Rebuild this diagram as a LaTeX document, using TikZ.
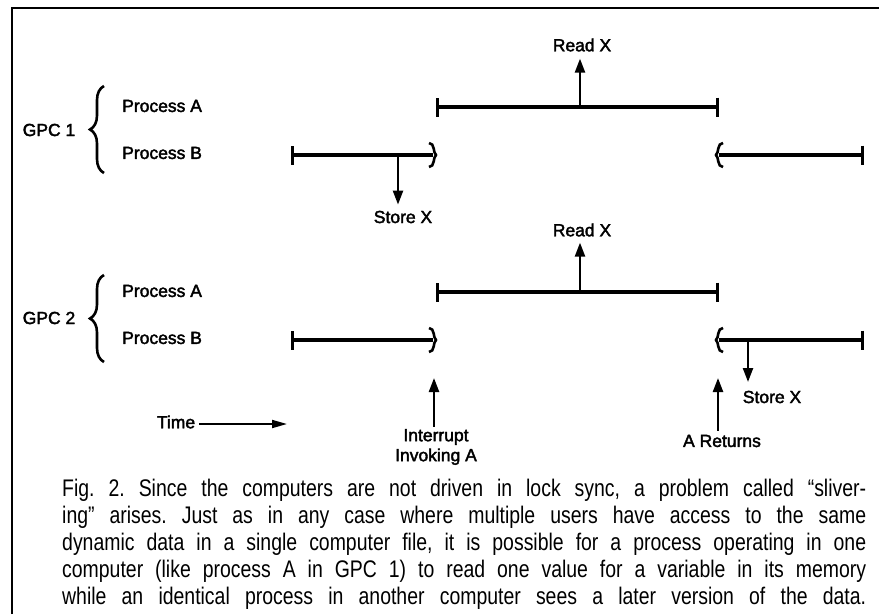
\documentclass[tikz,border=0pt]{standalone}
\usepackage{fontspec}
\setmainfont{Liberation Sans}
\newfontfamily\lblfont[FakeBold=2.2]{Liberation Sans}
\newfontfamily\capfont[FakeStretch=0.81]{Liberation Sans}
\usetikzlibrary{arrows.meta,decorations.pathreplacing}
\tikzset{
  rsq/.pic={\draw[line width=2.6pt] (-4,-12) .. controls (2,-12) and (0,-2) .. (3,0) .. controls (0,2) and (2,12) .. (-4,12);},
  lsq/.pic={\draw[line width=2.6pt] (4,-12) .. controls (-2,-12) and (0,-2) .. (-3,0) .. controls (0,2) and (-2,12) .. (4,12);}
}
\begin{document}
\frenchspacing
\begin{tikzpicture}[x=1pt,y=-1pt,
  lbl/.style={font=\lblfont\fontsize{17.5}{20}\selectfont, inner sep=0pt},
  capline/.style={font=\capfont\fontsize{24}{27}\selectfont, inner sep=0pt, anchor=base west},
  procline/.style={line width=3.2pt},
  bothbars/.style={{Bar[width=19pt]}-{Bar[width=19pt]}},
  leftbar/.style={{Bar[width=19pt]}-},
  rightbar/.style={-{Bar[width=19pt]}},
  arr/.style={line width=2.3pt,-{Triangle[length=14pt,width=10pt]}},
  gbrace/.style={line width=2.6pt, decorate, decoration={brace,amplitude=14pt,aspect=0.5}}
]
\useasboundingbox (0,0) rectangle (879,614);
\draw[line width=2.4pt] (12,614) -- (12,8) -- (879,8);

% GPC 1
\node[lbl] (gpc1) at (49,130) {GPC 1};
\node[lbl,anchor=west] (pa1) at (122,106) {Process A};
\node[lbl,anchor=west] (pb1) at (122,153) {Process B};
\coordinate (br1t) at (104,86);
\coordinate (br1b) at (104,173);
\draw[gbrace] (br1b) -- (br1t);

\coordinate (a1s) at (436,107);
\coordinate (a1e) at (719,107);
\draw[procline,bothbars] (a1s) -- (a1e);
\coordinate (b1s) at (291,155);
\coordinate (b1e) at (433,155);
\draw[procline,leftbar] (b1s) -- (b1e);
\pic at (b1e) {rsq};
\coordinate (b1r) at (719,155);
\coordinate (b1f) at (864,155);
\draw[procline,rightbar] (b1r) -- (b1f);
\pic at (b1r) {lsq};

\node[lbl] (readx1) at (582,45) {Read X};
\coordinate (r1) at (580,107);
\draw[arr,shorten >=7pt] (r1) -- (r1 |- readx1.south);
\node[lbl] (storex1) at (403,217) {Store X};
\coordinate (s1) at (398,155);
\draw[arr,shorten >=6pt] (s1) -- (s1 |- storex1.north);

% GPC 2
\node[lbl] (gpc2) at (49,318) {GPC 2};
\node[lbl,anchor=west] (pa2) at (122,291) {Process A};
\node[lbl,anchor=west] (pb2) at (122,338) {Process B};
\coordinate (br2t) at (104,275);
\coordinate (br2b) at (104,362);
\draw[gbrace] (br2b) -- (br2t);

\coordinate (a2s) at (436,292);
\coordinate (a2e) at (719,292);
\draw[procline,bothbars] (a2s) -- (a2e);
\coordinate (b2s) at (291,340);
\coordinate (b2e) at (433,340);
\draw[procline,leftbar] (b2s) -- (b2e);
\pic at (b2e) {rsq};
\coordinate (b2r) at (719,340);
\coordinate (b2f) at (864,340);
\draw[procline,rightbar] (b2r) -- (b2f);
\pic at (b2r) {lsq};

\node[lbl] (readx2) at (582,230) {Read X};
\coordinate (r2) at (580,292);
\draw[arr,shorten >=6pt] (r2) -- (r2 |- readx2.south);
\node[lbl] (storex2) at (772,397) {Store X};
\coordinate (s2) at (748,340);
\coordinate (s2tip) at (748,382);
\draw[arr] (s2) -- (s2tip);

% events
\node[lbl,align=center] (intr) at (436,447) {Interrupt\\Invoking A};
\coordinate (itip) at (434,378);
\draw[arr,shorten <=2pt] (intr.north -| itip) -- (itip);
\node[lbl] (aret) at (722,441) {A Returns};
\coordinate (atip) at (718,378);
\draw[arr,shorten <=4pt] (aret.north -| atip) -- (atip);

% time
\node[lbl] (time) at (176,422) {Time};
\coordinate (timeend) at (287,424);
\draw[line width=1.8pt,-{Triangle[length=15pt,width=8pt]},shorten <=4pt] (time.east |- timeend) -- (timeend);

% caption
\node[capline] (c1) at (62,496) {\makebox[804pt][s]{Fig. 2. Since the computers are not driven in lock sync, a problem called “sliver-}};
\node[capline] (c2) at (62,523) {\makebox[804pt][s]{ing” arises. Just as in any case where multiple users have access to the same}};
\node[capline] (c3) at (62,550) {\makebox[804pt][s]{dynamic data in a single computer file, it is possible for a process operating in one}};
\node[capline] (c4) at (62,577) {\makebox[804pt][s]{computer (like process A in GPC 1) to read one value for a variable in its memory}};
\node[capline] (c5) at (62,604) {\makebox[804pt][s]{while an identical process in another computer sees a later version of the data.}};
\end{tikzpicture}
\end{document}
